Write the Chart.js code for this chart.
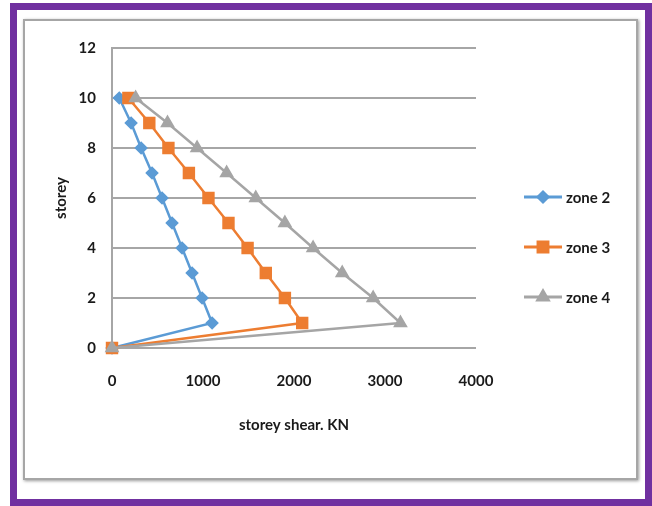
<!DOCTYPE html>
<html lang="en">
<head>
    <meta charset="UTF-8">
    <script src="https://cdn.jsdelivr.net/npm/chart.js"></script>
    <title>Storey shear</title>
    <style>
        html, body { margin: 0; padding: 0; background: #fff; }
        .frame {
            position: absolute; left: 10px; top: 3px; width: 642px; height: 503px;
            box-sizing: border-box; border: 7px solid #7030a0;
        }
        .caixa {
            position: absolute; left: 23px; top: 19px; width: 615px; height: 461px;
            box-sizing: border-box; border: 2px solid #a6a6a6; box-shadow: 1px 1px 3px #999;
        }
        #grafico { position: absolute; left: 0; top: 0; }
    </style>
</head>
<body>
    <div class="frame"></div>
    <div class="caixa"></div>
    <canvas id="grafico" width="652" height="506"></canvas>

<script>
    // dados (storey 0..10)
    var storeys = [0, 1, 2, 3, 4, 5, 6, 7, 8, 9, 10]
    var zone2 = [0, 1100, 990, 880, 770, 660, 550, 440, 320, 210, 80]
    var zone3 = [0, 2090, 1900, 1690, 1490, 1280, 1060, 845, 620, 410, 180]
    var zone4 = [0, 3170, 2870, 2530, 2210, 1900, 1580, 1260, 935, 610, 260]
    var xTicks = [0, 1000, 2000, 3000, 4000]
    var yTicks = [0, 2, 4, 6, 8, 10, 12]

    var fonte = 'Lato, "Open Sans", sans-serif'

    function pontos(valores) {
        return valores.map(function (v, i) { return { x: v, y: storeys[i] } })
    }

    // legenda desenhada a mao (linha + marcador, como no excel)
    const legendaExcel = {
        id: 'legendaExcel',
        afterDraw(chart) {
            const ctx = chart.ctx
            const ys = [197, 247, 297]
            chart.data.datasets.forEach(function (ds, i) {
                const y = ys[i]
                ctx.save()
                ctx.strokeStyle = ds.borderColor
                ctx.lineWidth = 3
                ctx.beginPath()
                ctx.moveTo(524, y)
                ctx.lineTo(562, y)
                ctx.stroke()
                Chart.helpers.drawPoint(ctx, {
                    pointStyle: ds.pointStyle,
                    radius: ds.pointRadius,
                    rotation: 0,
                    borderWidth: 1
                }, 543, y)
                ctx.fillStyle = ds.borderColor
                ctx.fill()
                ctx.fillStyle = '#1a1a1a'
                ctx.font = 'bold 15px ' + fonte
                ctx.textBaseline = 'middle'
                ctx.fillText(ds.label, 566, y + 1)
                ctx.restore()
            })
        }
    }

    const dados = {
        datasets: [{
            label: 'zone 2',
            data: pontos(zone2),
            borderColor: '#5b9bd5',
            backgroundColor: '#5b9bd5',
            pointStyle: 'rectRot',
            pointRadius: 5,
            borderWidth: 2.5,
            clip: false,
            order: 3
        },
        {
            label: 'zone 3',
            data: pontos(zone3),
            borderColor: '#ed7d31',
            backgroundColor: '#ed7d31',
            pointStyle: 'rect',
            pointRadius: 7,
            borderWidth: 2.5,
            clip: false,
            order: 2
        },
        {
            label: 'zone 4',
            data: pontos(zone4),
            borderColor: '#a5a5a5',
            backgroundColor: '#a5a5a5',
            pointStyle: 'triangle',
            pointRadius: 6,
            borderWidth: 2.5,
            clip: false,
            order: 1
        }]
    }

    const config = {
        type: 'scatter',
        data: dados,
        plugins: [legendaExcel],
        options: {
            responsive: false,
            animation: false,
            devicePixelRatio: 1,
            showLine: true,
            datasets: { scatter: { showLine: true } },
            layout: { padding: { left: 40, right: 176, top: 48, bottom: 60 } },
            plugins: {
                legend: { display: false },
                tooltip: { enabled: false }
            },
            scales: {
                x: {
                    type: 'linear',
                    min: xTicks[0],
                    max: xTicks[xTicks.length - 1],
                    afterBuildTicks: function (s) { s.ticks = xTicks.map(function (v) { return { value: v } }) },
                    afterFit: function (s) { s.height = 98 },
                    grid: { display: false, drawTicks: false },
                    border: { display: false },
                    ticks: {
                        padding: 24, color: '#1a1a1a',
                        font: { family: fonte, size: 15, weight: 'bold' },
                        callback: function (v) { return String(v) }
                    },
                    title: {
                        display: true, text: 'storey shear. KN', color: '#1a1a1a',
                        padding: { top: 0, bottom: 12 },
                        font: { family: fonte, size: 15, weight: 'bold' }
                    }
                },
                y: {
                    type: 'linear',
                    min: yTicks[0],
                    max: yTicks[yTicks.length - 1],
                    afterBuildTicks: function (s) { s.ticks = yTicks.map(function (v) { return { value: v } }) },
                    afterFit: function (s) { s.width = 72 },
                    grid: { color: '#a6a6a6', lineWidth: 2, drawTicks: false },
                    border: { display: true, color: '#a6a6a6', width: 2 },
                    ticks: { padding: 16, color: '#1a1a1a', font: { family: fonte, size: 15, weight: 'bold' } },
                    title: {
                        display: true, text: 'storey', color: '#1a1a1a',
                        padding: { top: 12, bottom: 0 },
                        font: { family: fonte, size: 15, weight: 'bold' }
                    }
                }
            }
        }
    }

    let grafico = new Chart(document.getElementById('grafico'), config)
</script>
</body>
</html>
